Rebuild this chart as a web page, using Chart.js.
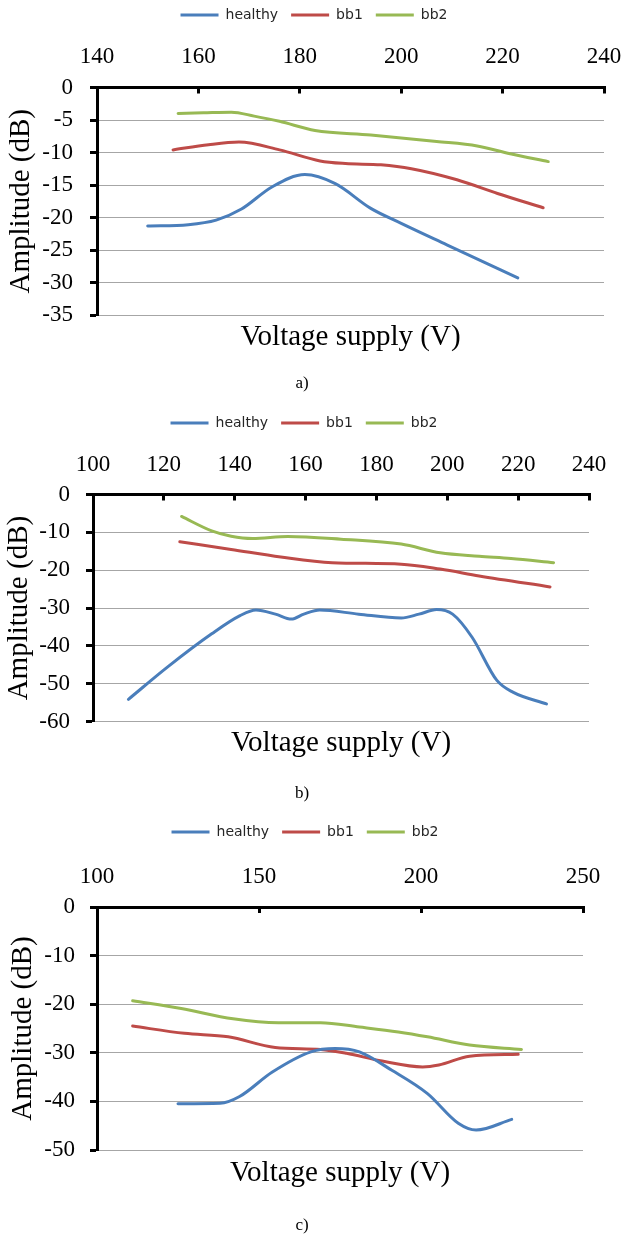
<!DOCTYPE html>
<html><head><meta charset="utf-8">
<script src="https://cdn.jsdelivr.net/npm/chart.js@4/dist/chart.umd.min.js"></script>
<style>
html,body{margin:0;padding:0;background:#fff;}
#wrap{position:relative;width:625px;height:1236px;overflow:hidden;background:#fff;}
canvas{position:absolute;left:0;}
.cap{position:absolute;width:100px;text-align:center;font:17px "Liberation Serif","Times New Roman",serif;line-height:20px;color:#000;}
</style></head><body>
<div id="wrap">
<canvas id="ca" width="625" height="400" style="top:0px"></canvas>
<canvas id="cb" width="625" height="410" style="top:400px"></canvas>
<canvas id="cc" width="625" height="426" style="top:810px"></canvas>
<div class="cap" style="left:252px;top:373px">a)</div>
<div class="cap" style="left:252px;top:783px">b)</div>
<div class="cap" style="left:252px;top:1215px">c)</div>
</div>
<script>
const seriesNames = ['healthy', 'bb1', 'bb2'];

// ---- chart a) ----
const aXTicks = [140, 160, 180, 200, 220, 240];
const aYTicks = [-35, -30, -25, -20, -15, -10, -5, 0];
const aHealthyV  = [150, 158, 163.5, 168.5, 174.5, 181, 187, 194, 200, 209, 223];
const aHealthyDb = [-21.3, -21.1, -20.4, -18.7, -15.3, -13.4, -14.8, -18.6, -20.9, -24.2, -29.3];
const aBb1V  = [155, 162, 168, 176, 184, 189, 196, 202, 211, 219, 228];
const aBb1Db = [-9.6, -8.8, -8.4, -9.6, -11.3, -11.7, -11.9, -12.5, -14.2, -16.3, -18.5];
const aBb2V  = [156, 161, 166.5, 171, 176, 183, 194, 207, 215, 221.5, 229];
const aBb2Db = [-4.0, -3.9, -3.8, -4.4, -5.2, -6.6, -7.3, -8.3, -9.0, -10.2, -11.4];

// ---- chart b) ----
const bXTicks = [100, 120, 140, 160, 180, 200, 220, 240];
const bYTicks = [-60, -50, -40, -30, -20, -10, 0];
const bHealthyV  = [110, 121, 133.5, 141.5, 146, 151.5, 156, 159.5, 164, 175, 187, 192, 197, 201.5, 207, 214, 218.5, 228];
const bHealthyDb = [-54.1, -45.6, -36.8, -32, -30.5, -31.6, -32.9, -31.6, -30.5, -31.6, -32.6, -31.6, -30.4, -31.6, -37.7, -49.1, -52.2, -55.3];
const bBb1V  = [124.5, 139, 153, 167.5, 187, 198, 209, 229];
const bBb1Db = [-12.5, -14.5, -16.5, -18, -18.4, -19.7, -21.5, -24.4];
const bBb2V  = [125, 133.5, 139, 145, 155, 170, 187, 198, 209, 218, 230];
const bBb2Db = [-5.8, -9.6, -11, -11.6, -11.1, -11.8, -13.1, -15.4, -16.3, -16.9, -18];

// ---- chart c) ----
const cXTicks = [100, 150, 200, 250];
const cYTicks = [-50, -40, -30, -20, -10, 0];
const cHealthyV  = [125, 138, 144, 154, 166, 173.5, 181, 191, 202, 211.5, 217, 228];
const cHealthyDb = [-40.5, -40.4, -39, -34, -29.8, -29.1, -29.8, -33.6, -38.4, -44.5, -45.9, -43.7];
const cBb1V  = [111, 127, 140.5, 155, 169, 177, 188, 200.5, 205.5, 215, 230];
const cBb1Db = [-24.5, -26, -26.7, -28.9, -29.3, -30.1, -31.7, -32.9, -32.5, -30.7, -30.3];
const cBb2V  = [111, 126, 142, 156, 169, 181, 193, 202, 215, 231];
const cBb2Db = [-19.3, -20.9, -23, -23.8, -23.8, -24.7, -25.7, -26.7, -28.4, -29.3];

const seriesColors = ['#4A7EBB', '#BE4B48', '#98B954'];
const SERIF = '"Liberation Serif", "Times New Roman", serif';

function pts(xs, ys) { return xs.map((x, i) => ({x: x, y: ys[i]})); }

function build(id, g, sets, xT, yT) {
  const datasets = sets.map((s, i) => ({
    label: seriesNames[i],
    data: pts(s[0], s[1]),
    borderColor: seriesColors[i],
    backgroundColor: seriesColors[i],
    borderWidth: 3,
    pointRadius: 0,
    pointHoverRadius: 0,
    cubicInterpolationMode: 'monotone',
    fill: false,
    borderCapStyle: 'round',
    pointStyle: 'line'
  }));
  return new Chart(document.getElementById(id), {
    type: 'line',
    data: {datasets: datasets},
    options: {
      responsive: false,
      animation: false,
      devicePixelRatio: 1,
      layout: {padding: {left: g.L, right: g.R, top: g.T, bottom: g.B}},
      plugins: {
        legend: {
          position: 'top',
          maxHeight: 36,
          labels: {
            usePointStyle: true, pointStyle: 'line', pointStyleWidth: 38,
            padding: g.lp, color: '#262626',
            font: {family: '"DejaVu Sans", sans-serif', size: 14}
          }
        },
        title: {
          display: true, position: 'bottom', fullSize: false,
          text: 'Voltage supply (V)', color: '#000',
          font: {family: SERIF, size: 29, weight: 'normal'},
          padding: {top: g.st, bottom: 0}
        },
        tooltip: {enabled: false}
      },
      scales: {
        x: {
          type: 'linear', position: 'top',
          min: xT[0], max: xT[xT.length - 1],
          ticks: {stepSize: xT[1] - xT[0], padding: 0, color: '#000', autoSkip: false, maxRotation: 0,
                  font: {family: SERIF, size: 23, lineHeight: g.xlh}},
          grid: {drawOnChartArea: false, drawTicks: true, tickLength: -6, tickColor: '#000', tickWidth: 3, color: '#000'},
          border: {display: true, color: '#000', width: 3},
          afterFit: function (s) { s.height = g.xh; }
        },
        y: {
          type: 'linear', position: 'left',
          min: yT[0], max: yT[yT.length - 1],
          ticks: {stepSize: yT[1] - yT[0], padding: g.yp, color: '#000', autoSkip: false,
                  font: {family: SERIF, size: 23}},
          grid: {
            color: function (c) { return (c.tick && c.tick.value === 0) ? 'rgba(0,0,0,0)' : '#a6a6a6'; },
            lineWidth: 1, tickLength: 7, tickColor: '#000', tickWidth: 3
          },
          border: {display: true, color: '#000', width: 3},
          title: {display: true, text: 'Amplitude (dB)', color: '#000',
                  font: {family: SERIF, size: 29, weight: 'normal'}, padding: {top: g.tp, bottom: 0}},
          afterFit: function (s) { s.width = g.yw; }
        },
        yR: {
          type: 'linear', position: 'right', display: true,
          ticks: {display: false}, grid: {display: false}, border: {display: false},
          afterFit: function (s) { s.width = g.rw; }
        }
      }
    }
  });
}

build('ca', {L: 3, R: 0, T: -5, B: 45.6, lp: 13, xh: 56.5, xlh: 3.174, yw: 94, rw: 21, yp: 17, tp: 0.6, st: 4.6},
  [[aHealthyV, aHealthyDb], [aBb1V, aBb1Db], [aBb2V, aBb2Db]], aXTicks, aYTicks);
build('cb', {L: 0, R: 17, T: 3, B: 49.6, lp: 13, xh: 55.5, xlh: 3.087, yw: 93, rw: 19, yp: 16, tp: 1.6, st: 3.9},
  [[bHealthyV, bHealthyDb], [bBb1V, bBb1Db], [bBb2V, bBb2Db]], bXTicks, bYTicks);
build('cc', {L: 0, R: 15, T: 2, B: 45.6, lp: 13, xh: 59, xlh: 3.13, yw: 97, rw: 27, yp: 15, tp: 5.6, st: 5.6},
  [[cHealthyV, cHealthyDb], [cBb1V, cBb1Db], [cBb2V, cBb2Db]], cXTicks, cYTicks);
</script>
</body></html>
